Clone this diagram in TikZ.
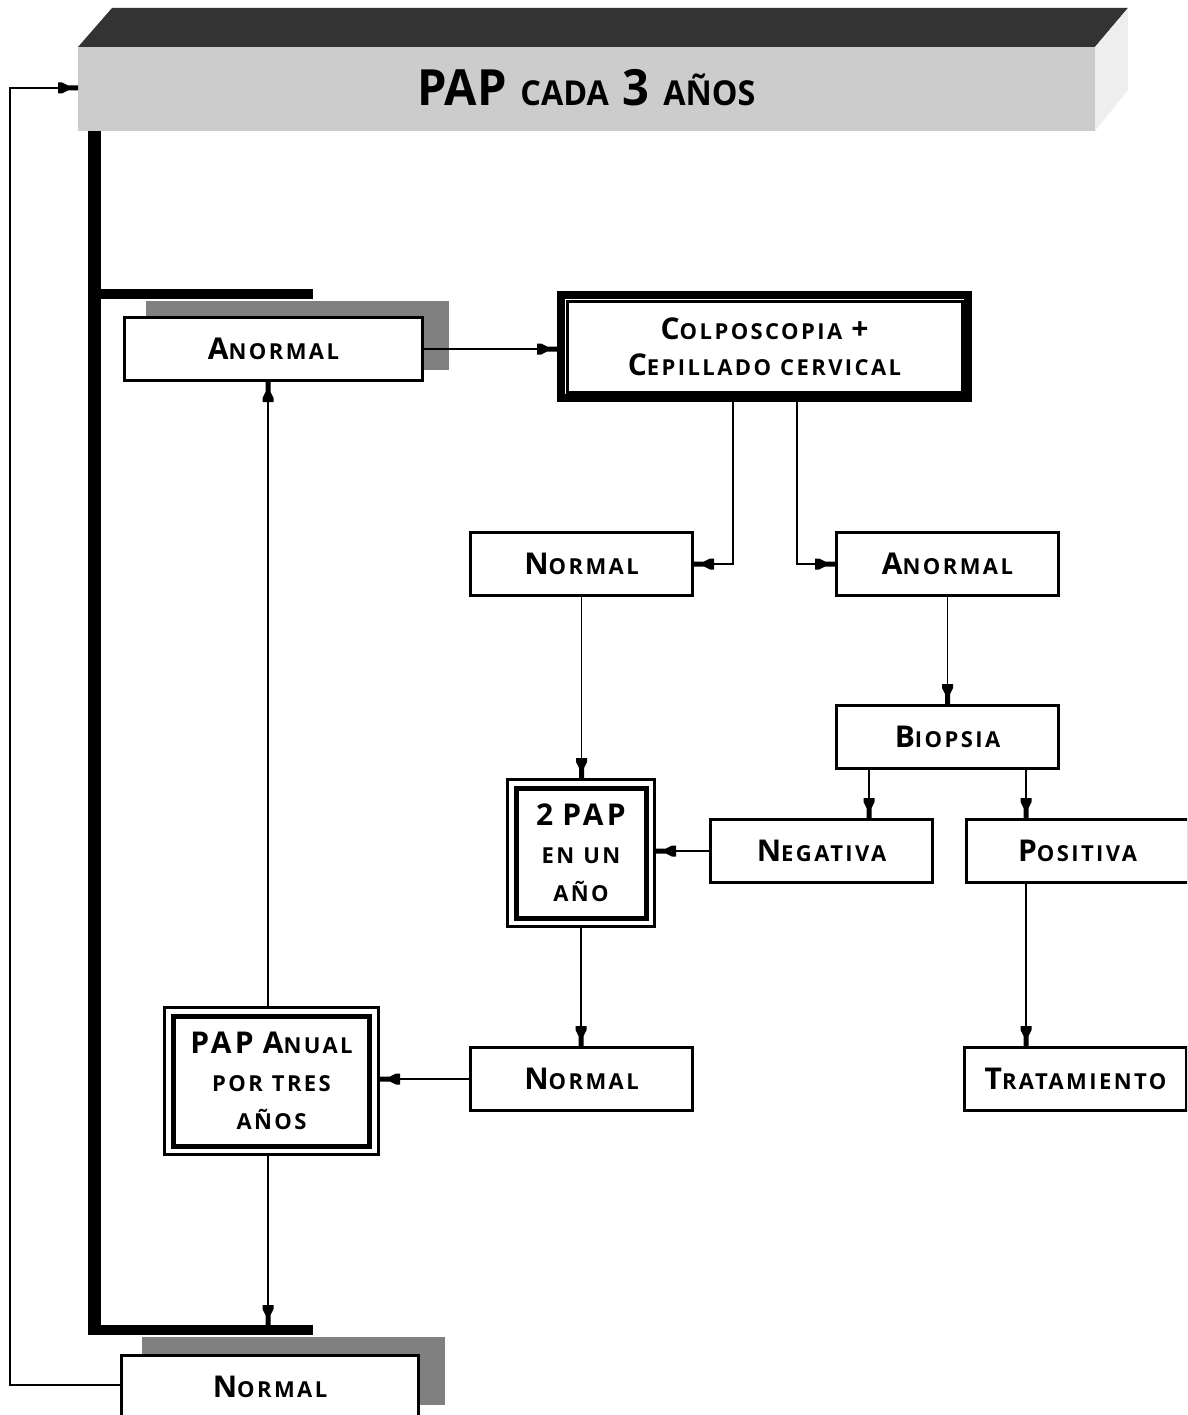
\documentclass[tikz,border=0pt]{standalone}
\usepackage{fontspec}
\setmainfont[LetterSpace=11]{Open Sans}
\newfontfamily\titlefont{Open Sans}
\usetikzlibrary{arrows.meta}
\definecolor{frontgray}{HTML}{CCCCCC}
\definecolor{topgray}{HTML}{333333}
\definecolor{sidegray}{HTML}{EEEEEE}
\definecolor{shadowgray}{HTML}{808080}
\pgfdeclarearrow{
  name = Blk,
  setup code = {
    \pgfarrowssettipend{0pt}
    \pgfarrowssetlineend{-12pt}
    \pgfarrowssetbackend{-20pt}
    \pgfarrowshullpoint{0pt}{2.5pt}
    \pgfarrowshullpoint{0pt}{-2.5pt}
    \pgfarrowshullpoint{-20pt}{5.5pt}
    \pgfarrowshullpoint{-20pt}{-5.5pt}
  },
  drawing code = {
    \pgfpathmoveto{\pgfqpoint{0pt}{2.5pt}}
    \pgfpathlineto{\pgfqpoint{-10pt}{2.5pt}}
    \pgfpathlineto{\pgfqpoint{-16pt}{5.5pt}}
    \pgfpathlineto{\pgfqpoint{-20pt}{5.5pt}}
    \pgfpathlineto{\pgfqpoint{-20pt}{-5.5pt}}
    \pgfpathlineto{\pgfqpoint{-16pt}{-5.5pt}}
    \pgfpathlineto{\pgfqpoint{-10pt}{-2.5pt}}
    \pgfpathlineto{\pgfqpoint{0pt}{-2.5pt}}
    \pgfpathclose
    \pgfusepathqfill
  }
}
\newcommand\mybig[1]{{\fontsize{30}{38}\selectfont #1}}
\newcommand\mysc[2]{\mybig{#1}#2}
\newcommand\gap{\hspace{9pt}}
\begin{document}
\begin{tikzpicture}[x=1pt,y=-1pt,
  box/.style={draw, line width=3pt, fill=white, inner sep=0pt, outer sep=auto,
    minimum width=222pt, minimum height=63pt, align=center,
    font=\bfseries\fontsize{22}{38}\selectfont},
  dbl/.style={draw, line width=3pt, fill=white, inner sep=0pt, align=center,
    font=\bfseries\fontsize{22}{38}\selectfont},
  arr/.style={draw, line width=1.5pt, -{Blk}},
  bar/.style={fill=black}]
\useasboundingbox (0,0) rectangle (1187,1415);
\clip (0,0) rectangle (1187,1415);

% title 3D box
\fill[topgray] (78,47) -- (112,8) -- (1128,8) -- (1095,47) -- cycle;
\fill[sidegray] (1095,47) -- (1128,8) -- (1128,90) -- (1095,131) -- cycle;
\node[fill=frontgray, minimum width=1017pt, minimum height=84pt, inner sep=0pt, outer sep=0pt] (title) at (586.5,89)
  {\titlefont\bfseries\raisebox{3pt}{\scalebox{0.98}[1.04]{{\fontsize{48}{48}\selectfont PAP}\hspace{14pt}{\fontsize{33}{48}\selectfont CADA}\hspace{14pt}{\fontsize{48}{48}\selectfont 3}\hspace{14pt}{\fontsize{33}{48}\selectfont AÑOS}}}};

% thick bars
\fill[bar] (88,131) rectangle (101,1335);
\fill[bar] (88,289) rectangle (313,299);
\fill[bar] (88,1325) rectangle (313,1335);

% shadows
\fill[shadowgray] (146,301) rectangle (449,370);
\fill[shadowgray] (142,1337) rectangle (445,1405);

% boxes
\node[box, minimum width=298pt] (anormalA) at (273.5,349) {\mysc{A}{NORMAL}};
\node[dbl, line width=8pt, minimum width=407pt, minimum height=103pt] (colp) at (764.5,346.5)
  {\mysc{C}{OLPOSCOPIA}\gap\mybig{+}\\[-2pt]\mysc{C}{EPILLADO}\gap CERVICAL};
\draw[line width=3pt] ([xshift=10pt,yshift=-10pt]colp.north west) rectangle ([xshift=-10pt,yshift=10pt]colp.south east);

\node[box] (normalA) at (581.5,564) {\mysc{N}{ORMAL}};
\node[box] (anormalB) at (947.5,564) {\mysc{A}{NORMAL}};
\node[box] (biopsia) at (947.5,737) {\mysc{B}{IOPSIA}};
\node[box] (negativa) at (821.5,851) {\mysc{N}{EGATIVA}};
\node[box] (positiva) at (1077.5,851) {\mysc{P}{OSITIVA}};
\node[box] (trat) at (1075.5,1079) {\mysc{T}{RATAMIENTO}};
\node[box] (normalB) at (581.5,1079) {\mysc{N}{ORMAL}};

\node[dbl, minimum width=147pt, minimum height=147pt] (pap2) at (581,853)
  {\mybig{2\gap PAP}\\EN\gap UN\\AÑO};
\draw[line width=5pt] ([xshift=10pt,yshift=-10pt]pap2.north west) rectangle ([xshift=-10pt,yshift=10pt]pap2.south east);

\node[dbl, minimum width=214pt, minimum height=147pt] (papanual) at (271.5,1081)
  {\mybig{PAP\gap A}NUAL\\POR\gap TRES\\AÑOS};
\draw[line width=5pt] ([xshift=10pt,yshift=-10pt]papanual.north west) rectangle ([xshift=-11pt,yshift=10pt]papanual.south east);

\node[box, minimum width=297pt] (normalC) at (270,1387) {\mysc{N}{ORMAL}};

\coordinate (barhit) at (268,1325);
\coordinate (loopL1) at (10,1385);
\coordinate (loopL2) at (10,88);

% connectors
\draw[arr] (anormalA.east) -- (anormalA.east -| colp.west);
\draw[arr] ([xshift=-31.5pt]colp.south) |- (normalA.east);
\draw[arr] ([xshift=32.5pt]colp.south) |- (anormalB.west);
\draw[arr] (normalA.south) -- (pap2.north -| normalA.south);
\draw[arr] (anormalB.south) -- (biopsia.north);
\draw[arr] ([xshift=-78.5pt]biopsia.south) -- ([xshift=-78.5pt]biopsia.south |- negativa.north);
\draw[arr] ([xshift=78.5pt]biopsia.south) -- ([xshift=78.5pt]biopsia.south |- positiva.north);
\draw[arr] (negativa.west) -- (negativa.west -| pap2.east);
\draw[arr] (pap2.south) -- (pap2.south |- normalB.north);
\draw[arr] ([xshift=-51.5pt]positiva.south) -- ([xshift=-51.5pt]positiva.south |- trat.north);
\draw[arr] (normalB.west) -- (normalB.west -| papanual.east);
\draw[arr] ([xshift=-3.5pt]papanual.north) -- ([xshift=-3.5pt]papanual.north |- anormalA.south);
\draw[arr] ([xshift=-3.5pt]papanual.south) -- (barhit);
\draw[arr] (normalC.west |- loopL1) -- (loopL1) -- (loopL2) -- (title.west |- loopL2);
\end{tikzpicture}
\end{document}
